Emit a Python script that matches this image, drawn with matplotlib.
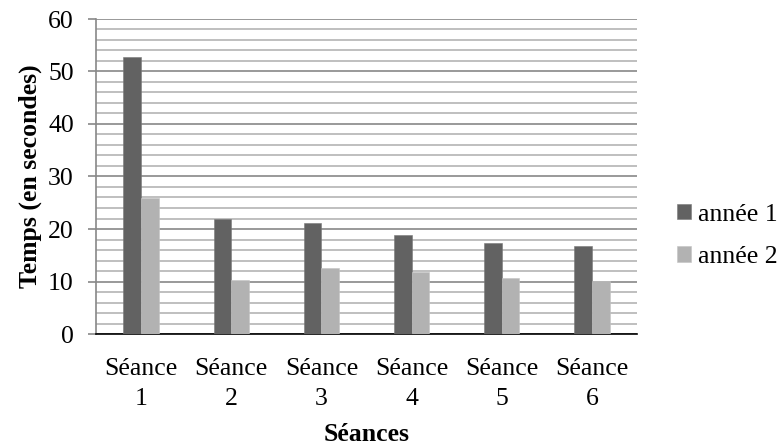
import numpy as np
import matplotlib
matplotlib.use("Agg")
import matplotlib.pyplot as plt
from matplotlib.ticker import MultipleLocator

# data
seances = ["Séance\n1", "Séance\n2", "Séance\n3", "Séance\n4", "Séance\n5", "Séance\n6"]
annee1 = [52.7, 21.9, 21.1, 18.8, 17.4, 16.7]
annee2 = [25.9, 10.2, 12.5, 11.9, 10.6, 10.1]
series_names = ["année 1", "année 2"]

plt.rcParams["font.family"] = ["Liberation Serif", "DejaVu Serif"]
fs = 18.5

fig = plt.figure(figsize=(7.82, 4.48), dpi=100)
ax = fig.add_axes([96 / 782, 1 - 334 / 448, 541 / 782, 315 / 448])

x = np.arange(len(seances))
w = 0.196
ax.bar(x - w / 2, annee1, w, color="#626262", edgecolor="#7a7a7a", linewidth=0.4,
       label=series_names[0], zorder=3)
ax.bar(x + w / 2, annee2, w, color="#b2b2b2", edgecolor="#c4c4c4", linewidth=0.4,
       label=series_names[1], zorder=3)

ax.set_xlim(-0.5, len(seances) - 0.5)
ax.set_ylim(0, 60)
ax.yaxis.set_major_locator(MultipleLocator(10))
ax.yaxis.set_minor_locator(MultipleLocator(2))
ax.grid(which="minor", axis="y", color="#b4b4b4", linewidth=1.2, zorder=0)
ax.grid(which="major", axis="y", color="#888888", linewidth=1.2, zorder=1)

ax.set_xticks(x)
ax.set_xticklabels(seances, fontsize=fs, linespacing=1.5)
ax.tick_params(axis="x", length=0, pad=17)
ax.tick_params(axis="y", which="major", length=6, color="#888888", width=1.2,
               labelsize=fs, pad=10)
ax.tick_params(axis="y", which="minor", length=0)

for s in ["top", "right"]:
    ax.spines[s].set_visible(False)
ax.spines["left"].set_color("#888888")
ax.spines["left"].set_linewidth(1.2)
ax.spines["bottom"].set_color("#000000")
ax.spines["bottom"].set_linewidth(1.2)

ax.set_ylabel("Temps (en secondes)", fontsize=fs, fontweight="bold", labelpad=4)
ax.set_xlabel("Séances", fontsize=fs, fontweight="bold", labelpad=9)

ax.legend(loc="center left", bbox_to_anchor=(677 / 782, 1 - 236 / 448),
          bbox_transform=fig.transFigure, frameon=False, borderpad=0,
          borderaxespad=0, fontsize=fs, handlelength=0.55, handleheight=0.55,
          handletextpad=0.25, labelspacing=0.8)

fig.savefig("out.png", dpi=100)
